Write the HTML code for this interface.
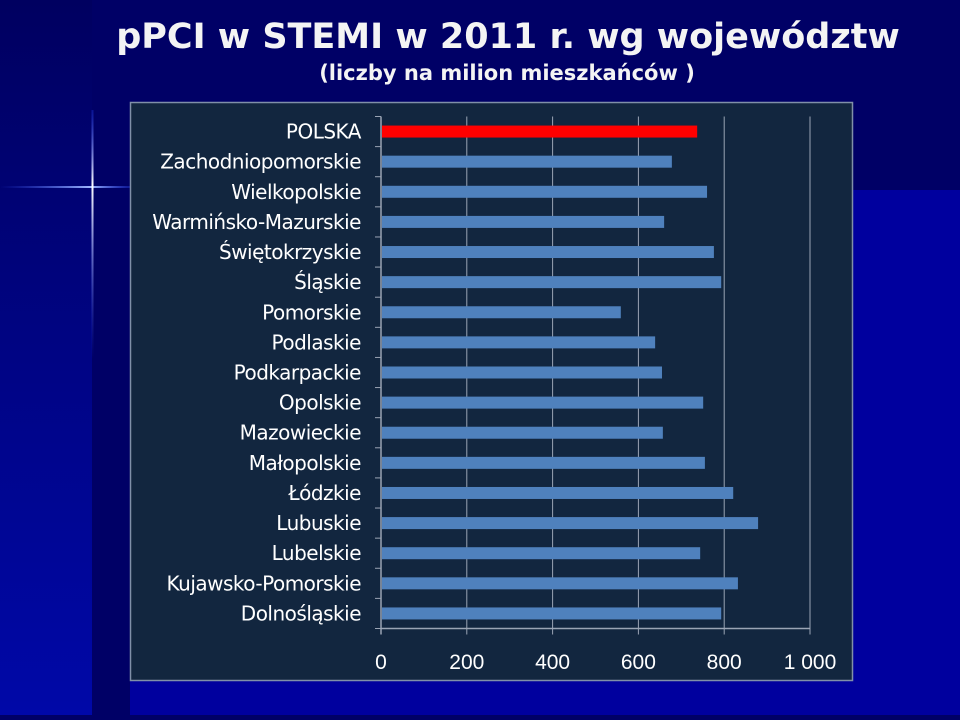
<!DOCTYPE html>
<html><head><meta charset="utf-8"><style>
body{margin:0;width:960px;height:715px;overflow:hidden;background:#000066;font-family:"Liberation Sans",sans-serif;}
</style></head><body>
<svg width="960" height="715" xmlns="http://www.w3.org/2000/svg">
<defs>
<linearGradient id="lg" x1="0" y1="0" x2="0" y2="1"><stop offset="0" stop-color="#000060"/><stop offset="1" stop-color="#0008a8"/></linearGradient>
<linearGradient id="hl" x1="0" y1="0" x2="1" y2="0"><stop offset="0" stop-color="#3050ff" stop-opacity="0"/><stop offset="0.7" stop-color="#a0b8ff"/><stop offset="1" stop-color="#3050ff" stop-opacity="0.3"/></linearGradient>
<linearGradient id="vl" x1="0" y1="0" x2="0" y2="1"><stop offset="0" stop-color="#2040ff" stop-opacity="0.3"/><stop offset="0.3" stop-color="#ffffff"/><stop offset="1" stop-color="#2040ff" stop-opacity="0"/></linearGradient>
</defs>
<rect x="0" y="0" width="960" height="715" fill="#000066"/>
<rect x="0" y="0" width="92" height="715" fill="url(#lg)"/>
<rect x="853" y="190" width="107" height="525" fill="#00009e"/>
<rect x="130" y="681" width="830" height="34" fill="#00009e"/>
<rect x="0" y="186" width="130" height="2" fill="url(#hl)"/>
<rect x="91.5" y="110" width="2" height="250" fill="url(#vl)"/>
<text x="508" y="48" text-anchor="middle" font-size="35" font-weight="bold" fill="#f4f4f4" style="font-family:'DejaVu Sans',sans-serif">pPCI w STEMI w 2011 r. wg województw</text>
<text x="507" y="80" text-anchor="middle" font-size="21" font-weight="bold" fill="#f4f4f4" style="font-family:'DejaVu Sans',sans-serif">(liczby na milion mieszkańców )</text>
<rect x="130.5" y="102.5" width="722" height="578" fill="#12263f" stroke="#8090a8" stroke-width="1.5"/>
<g id="chart"></g>
</svg>
<script>
const categories=["POLSKA","Zachodniopomorskie","Wielkopolskie","Warmińsko-Mazurskie","Świętokrzyskie","Śląskie","Pomorskie","Podlaskie","Podkarpackie","Opolskie","Mazowieckie","Małopolskie","Łódzkie","Lubuskie","Lubelskie","Kujawsko-Pomorskie","Dolnośląskie"];
const values=[737,678,760,660,776,793,559,639,655,751,657,755,821,879,744,832,793];
const ticks=[0,200,400,600,800,1000];
const tickLabels=["0","200","400","600","800","1 000"];
const NS="http://www.w3.org/2000/svg";
const g=document.getElementById('chart');
const x0=381,x1=810,yTop=116.5,yBot=628.5;
const xs=v=>x0+(v/1000)*(x1-x0);
const band=(yBot-yTop)/categories.length;
const yc=i=>yTop+band*(i+0.5);
function mk(t,a){const e=document.createElementNS(NS,t);for(const k in a)e.setAttribute(k,a[k]);g.appendChild(e);return e;}
ticks.forEach((t,i)=>{
 if(t>0){const l=mk('line',{x1:xs(t),x2:xs(t),y1:yTop,y2:yBot+6,stroke:'#9aa4b4','stroke-width':1});
 
 }
 const tx=mk('text',{x:xs(t),y:669,'text-anchor':'middle','font-size':21,fill:'#fff'});
 tx.textContent=tickLabels[i];
 
 
});
const ax=mk('line',{x1:x0,x2:x1,y1:yBot,y2:yBot,stroke:'#9aa4b4','stroke-width':1.5});


const ay=mk('line',{x1:x0,x2:x0,y1:yTop,y2:yBot+6,stroke:'#9aa4b4','stroke-width':1.5});


for(let i=0;i<=categories.length;i++){
 const tk=mk('line',{x1:x0-6,x2:x0,y1:yTop+band*i,y2:yTop+band*i,stroke:'#9aa4b4','stroke-width':1});
 
 
}
categories.forEach((c,i)=>{
 const r=mk('rect',{x:x0+1,y:yc(i)-6,width:xs(values[i])-x0-1,height:12,fill:i===0?'#ff0000':'#4f81bd'});
 
 
 const t=mk('text',{x:361,y:yc(i)+7,'text-anchor':'end','font-size':20,fill:'#fff'});
 t.setAttribute('style',"font-family:'DejaVu Sans',sans-serif;letter-spacing:-0.5px");
 t.textContent=c;
 
 
});
</script>
</body></html>
